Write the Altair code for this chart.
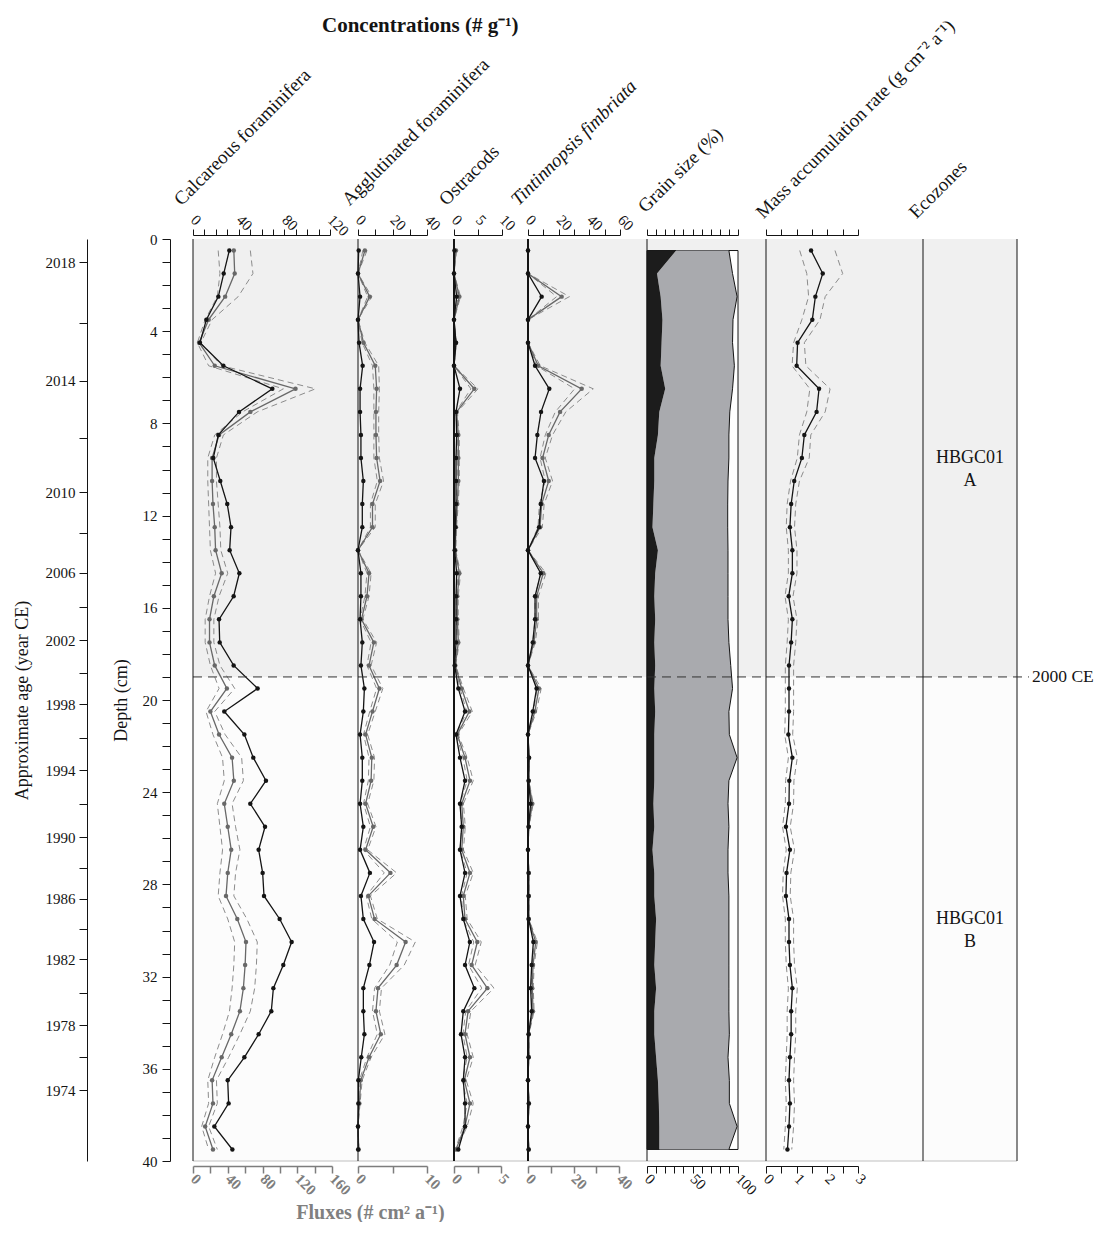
import altair as alt
import pandas as pd

# ---------------- data ----------------
depth = [0.5, 1.5, 2.5, 3.5, 4.5, 5.5, 6.5, 7.5, 8.5, 9.5,
         10.5, 11.5, 12.5, 13.5, 14.5, 15.5, 16.5, 17.5, 18.5, 19.5,
         20.5, 21.5, 22.5, 23.5, 24.5, 25.5, 26.5, 27.5, 28.5, 29.5,
         30.5, 31.5, 32.5, 33.5, 34.5, 35.5, 36.5, 37.5, 38.5, 39.5]

calc_conc = [31.8, 26.9, 22.2, 11.7, 6.1, 26.6, 69.5, 40.3, 22.2, 17.8,
             23.9, 30.0, 33.3, 32.1, 40.6, 35.6, 22.8, 23.4, 35.6, 56.6,
             27.4, 45.0, 52.8, 63.9, 50.2, 63.1, 57.5, 61.0, 62.2, 75.9,
             86.4, 79.1, 70.4, 68.6, 57.5, 45.0, 30.4, 31.2, 18.7, 34.5]
calc_flux = [47, 48, 37, 18, 7, 25, 118, 66, 30, 22,
             22, 23, 25, 26, 33, 24, 19, 19, 25, 39,
             20, 30, 45, 47, 36, 40, 44, 40, 38, 51,
             61, 60, 58, 54, 44, 33, 22, 23, 14, 23]
calc_lo = [29, 31, 28, 14, 5, 18, 104, 57, 25, 17,
           17, 18, 19, 20, 26, 19, 14, 14, 20, 30,
           15, 23, 34, 36, 28, 31, 34, 31, 29, 40,
           48, 47, 45, 42, 34, 25, 17, 18, 10, 18]
calc_hi = [66, 69, 52, 22, 9, 33, 141, 74, 35, 27,
           27, 29, 31, 32, 40, 30, 24, 24, 31, 48,
           25, 37, 56, 58, 45, 49, 54, 49, 47, 62,
           74, 73, 71, 66, 54, 41, 27, 28, 18, 28]

agg_conc = [0.4, 0, 1.2, 0, 0.6, 2.7, 1.2, 1.2, 1.7, 1.7,
            3.1, 2.5, 2.5, 0, 1.7, 1.7, 1.2, 2.5, 1.7, 3.7,
            3.1, 1.2, 2.5, 2.5, 1.2, 3.1, 1.2, 6.9, 1.7, 3.1,
            9.3, 6.6, 3.1, 3.1, 3.7, 1.9, 0.2, 0.2, 0, 0.1]
agg_flux = [1.0, 0, 1.7, 0, 0.8, 2.5, 2.7, 2.6, 2.6, 2.7,
            3.2, 2.1, 2.1, 0, 1.6, 1.3, 0.5, 2.3, 1.6, 3.1,
            2.1, 1.1, 2.0, 1.9, 1.1, 2.2, 1.1, 4.7, 1.5, 2.4,
            6.9, 5.6, 2.9, 2.6, 3.3, 1.6, 0.4, 0.2, 0, 0.1]
agg_lo = [0.7, 0, 1.4, 0, 0.6, 2.1, 2.3, 2.3, 2.3, 2.3,
          2.8, 1.8, 1.8, 0, 1.3, 1.0, 0.3, 1.9, 1.3, 2.7,
          1.7, 0.8, 1.6, 1.5, 0.8, 1.8, 0.8, 3.8, 1.2, 2.0,
          5.7, 4.6, 2.4, 2.1, 2.8, 1.3, 0.2, 0.1, 0, 0.05]
agg_hi = [1.3, 0, 2.0, 0, 1.0, 3.0, 3.1, 3.0, 3.0, 3.1,
          3.7, 2.5, 2.5, 0, 1.9, 1.6, 0.7, 2.7, 1.9, 3.6,
          2.5, 1.4, 2.4, 2.3, 1.4, 2.6, 1.4, 5.6, 1.8, 2.8,
          8.3, 6.7, 3.4, 3.1, 3.9, 1.9, 0.6, 0.3, 0, 0.15]

ost_conc = [0.1, 0, 0.56, 0, 0.42, 0, 1.25, 0.42, 0.56, 0.42,
            0.42, 0.42, 0.28, 0.14, 0.56, 0.42, 0.42, 0.42, 0.14, 0.9,
            2.3, 0.42, 1.25, 2.3, 1.25, 1.6, 1.25, 2.3, 1.25, 1.94,
            3.3, 2.3, 4.24, 1.94, 1.46, 2.3, 1.94, 2.3, 2.3, 0.9]
ost_flux = [0.21, 0, 0.57, 0, 0.21, 0, 2.16, 0.28, 0.46, 0.46,
            0.46, 0.35, 0.21, 0.14, 0.57, 0.35, 0.35, 0.46, 0.14, 0.82,
            1.63, 0.35, 1.17, 1.7, 0.82, 0.99, 0.82, 1.7, 0.99, 1.17,
            2.48, 1.88, 3.55, 1.5, 1.17, 1.7, 1.1, 1.7, 1.17, 0.21]
ost_lo = [0.15, 0, 0.45, 0, 0.15, 0, 1.8, 0.2, 0.35, 0.35,
          0.35, 0.25, 0.15, 0.1, 0.45, 0.25, 0.25, 0.35, 0.1, 0.65,
          1.35, 0.25, 0.95, 1.4, 0.65, 0.8, 0.65, 1.4, 0.8, 0.95,
          2.1, 1.55, 2.95, 1.25, 0.95, 1.4, 0.9, 1.4, 0.95, 0.15]
ost_hi = [0.27, 0, 0.7, 0, 0.27, 0, 2.55, 0.36, 0.57, 0.57,
          0.57, 0.45, 0.27, 0.18, 0.7, 0.45, 0.45, 0.57, 0.18, 1.0,
          1.95, 0.45, 1.4, 2.05, 1.0, 1.2, 1.0, 2.05, 1.2, 1.4,
          2.9, 2.25, 4.25, 1.8, 1.4, 2.05, 1.3, 2.05, 1.4, 0.27]

tin_conc = [0, 0, 8.9, 0, 0, 4.6, 13.9, 8.5, 6.1, 4.6,
            10.4, 8.3, 7.2, 0, 8.3, 4.6, 4.6, 3.1, 0, 5.6,
            3.1, 0, 0.7, 0.4, 1.7, 0.4, 0, 0.4, 0.4, 0.4,
            3.5, 2.4, 1.7, 2.4, 0.4, 0.4, 0, 0.5, 0, 0.4]
tin_flux = [0, 0, 14.8, 0, 0, 4.5, 23.6, 14.1, 9.1, 6.4,
            9.1, 6.0, 5.3, 0, 6.7, 3.8, 3.8, 2.6, 0, 4.8,
            3.0, 0, 0.4, 0.3, 1.9, 0.3, 0, 0.3, 0.3, 0.3,
            3.4, 2.2, 1.9, 2.2, 0.3, 0.3, 0, 0.4, 0, 0.3]
tin_lo = [0, 0, 12.6, 0, 0, 3.7, 20.5, 12.0, 7.6, 5.3,
          7.6, 5.0, 4.4, 0, 5.6, 3.1, 3.1, 2.1, 0, 4.0,
          2.4, 0, 0.3, 0.2, 1.5, 0.2, 0, 0.2, 0.2, 0.2,
          2.8, 1.8, 1.5, 1.8, 0.2, 0.2, 0, 0.3, 0, 0.2]
tin_hi = [0, 0, 18.2, 0, 0, 5.4, 28.7, 16.6, 10.8, 7.6,
          10.8, 7.1, 6.3, 0, 7.9, 4.6, 4.6, 3.2, 0, 5.8,
          3.7, 0, 0.5, 0.4, 2.3, 0.4, 0, 0.4, 0.4, 0.4,
          4.1, 2.7, 2.3, 2.7, 0.4, 0.4, 0, 0.5, 0, 0.4]

grain_clay = [32, 11, 15, 17, 16, 15, 20, 13.5, 12, 8,
              8, 7, 6, 12, 9, 8, 9, 8, 9, 8,
              9, 8, 8, 8, 7, 8, 6, 8, 8, 10,
              9, 8, 10, 8, 8, 10, 12, 13, 13.5, 13.5]
grain_silt = [58, 83, 84, 77.5, 78, 81, 74, 77.5, 78, 82,
              81, 81.7, 82.7, 77, 80, 81, 80, 82, 83, 86,
              81, 82.5, 91, 82, 82, 82, 83, 81, 82, 80,
              81, 82, 80, 82, 82.5, 79, 78.5, 77.5, 85.5, 76.5]

mar = [1.47, 1.85, 1.61, 1.51, 1.03, 1.0, 1.73, 1.65, 1.25, 1.17,
       0.92, 0.82, 0.78, 0.86, 0.86, 0.74, 0.86, 0.82, 0.75, 0.75,
       0.75, 0.73, 0.86, 0.76, 0.75, 0.65, 0.78, 0.67, 0.65, 0.75,
       0.75, 0.78, 0.86, 0.82, 0.82, 0.78, 0.75, 0.78, 0.75, 0.7]
mar_lo = [1.1, 1.33, 1.39, 1.17, 0.9, 0.85, 1.43, 1.33, 1.09, 1.02,
          0.8, 0.69, 0.66, 0.73, 0.73, 0.62, 0.73, 0.69, 0.63, 0.63,
          0.63, 0.61, 0.73, 0.64, 0.63, 0.54, 0.66, 0.56, 0.54, 0.63,
          0.63, 0.66, 0.73, 0.69, 0.69, 0.66, 0.63, 0.66, 0.63, 0.58]
mar_hi = [2.25, 2.5, 1.93, 1.76, 1.25, 1.3, 2.09, 1.93, 1.46, 1.41,
          1.09, 0.97, 0.93, 1.01, 1.01, 0.88, 1.01, 0.97, 0.9, 0.9,
          0.9, 0.87, 1.02, 0.91, 0.9, 0.79, 0.93, 0.81, 0.79, 0.9,
          0.9, 0.93, 1.02, 0.97, 0.97, 0.93, 0.9, 0.93, 0.9, 0.84]

# zones & age model
zone_top = [0, 19]
zone_bottom = [19, 40]
zone_names = ["HBGC01\nA", "HBGC01\nB"]
boundary_depth = [19]
boundary_label = ["2000 CE"]

age_years = [2018, 2016, 2014, 2012, 2010, 2008, 2006, 2004, 2002, 2000, 1998, 1996,
             1994, 1992, 1990, 1988, 1986, 1984, 1982, 1980, 1978, 1976, 1974]
age_depths = [1.01, 3.63, 6.15, 8.63, 10.98, 12.74, 14.48, 15.98, 17.4, 18.84, 20.19, 21.66,
              23.04, 24.51, 25.96, 27.3, 28.63, 29.95, 31.24, 32.7, 34.1, 35.5, 36.92]
age_labelled = [y for y in age_years if (2018 - y) % 4 == 0]

# axis tick values
depth_ticks = [0, 1, 2, 3, 4, 5, 6, 7, 8, 9, 10, 11, 12, 13, 14, 15, 16, 17, 18, 19, 20,
               21, 22, 23, 24, 25, 26, 27, 28, 29, 30, 31, 32, 33, 34, 35, 36, 37, 38, 39, 40]
calc_top_ticks = [0, 10, 20, 30, 40, 50, 60, 70, 80, 90, 100, 110, 120]
calc_bot_ticks = [0, 20, 40, 60, 80, 100, 120, 140, 160]
agg_top_ticks = [0, 10, 20, 30, 40]
agg_bot_ticks = [0, 5, 10]
ost_top_ticks = [0, 5, 10]
ost_bot_ticks = [0, 2.5, 5]
tin_top_ticks = [0, 10, 20, 30, 40, 50, 60]
tin_bot_ticks = [0, 10, 20, 30, 40]
grain_ticks = [0, 10, 20, 30, 40, 50, 60, 70, 80, 90, 100]
mar_ticks = [0, 0.5, 1, 1.5, 2, 2.5, 3]

# ---------------- style ----------------
FONT = "Liberation Serif"
BLACK = "#141414"
GREY = "#686868"
DASHC = "#8c8c8c"
AXGREY = "#7d7d7d"
H = 922
W_AGE, W_DEPTH = 83, 23
W_CALC, W_AGG, W_OST, W_TIN, W_GRAIN, W_MAR, W_ECO = 165, 96, 74, 119, 119, 157, 94

zone_df = pd.DataFrame({"ztop": zone_top, "zbot": zone_bottom,
                        "zfill": ["#f0f0f0", "#fcfcfc"]})
bnd_df = pd.DataFrame({"bdepth": boundary_depth, "blabel": boundary_label})
one_df = pd.DataFrame({"z": [0]})


def yscale():
    return alt.Scale(domain=[0, 40], reverse=True, nice=False, zero=False)


def xs(dom, rng):
    return alt.Scale(domain=dom, range=rng, nice=False, zero=False)


def top_axis(title, values, step=None, tx=-10, ty=-29, italic=False, labels=True):
    kw = dict(orient="top", offset=4, values=values, tickSize=6, tickColor=BLACK,
              domainColor=BLACK, labels=labels, labelColor=BLACK, labelFont=FONT,
              labelFontSize=15, labelAngle=45, labelAlign="left", labelBaseline="middle",
              labelPadding=12, labelOverlap=False, labelFlush=False, grid=False,
              title=title, titleFont=FONT, titleFontSize=19, titleFontWeight="normal",
              titleFontStyle="italic" if italic else "normal", titleColor=BLACK,
              titleAngle=315, titleAlign="left", titleBaseline="alphabetic",
              titleX=tx, titleY=ty)
    if labels and step is not None:
        kw["labelExpr"] = f"datum.value % {step} == 0 ? '' + datum.value : ''"
    return alt.Axis(**kw)


def bottom_axis(values, step, color=AXGREY, bold=True, **extra):
    kw = dict(orient="bottom", offset=5, values=values, tickSize=7, tickColor=color,
              domainColor=color, domainWidth=1.5 if color == AXGREY else 1,
              tickWidth=1.5 if color == AXGREY else 1,
              labelColor=color, labelFont=FONT, labelFontSize=15,
              labelFontWeight="bold" if bold else "normal",
              labelAngle=45, labelAlign="left", labelBaseline="middle", labelPadding=3,
              labelOverlap=False, labelFlush=False, grid=False,
              labelExpr=f"datum.value % {step} == 0 ? '' + datum.value : ''", title=None)
    kw.update(extra)
    return alt.Axis(**kw)


def frame_layers(width, frame_w=1.0, line_ext=0):
    bg = alt.Chart(zone_df).mark_rect().encode(
        y=alt.Y("ztop:Q", scale=yscale(), axis=None), y2="zbot:Q",
        x=alt.value(0), x2=alt.value(width),
        color=alt.Color("zfill:N", scale=None, legend=None))
    base_line = alt.Chart(one_df).mark_rule(color="#d4d4d4", strokeWidth=1.5).encode(
        y=alt.value(H), x=alt.value(0), x2=alt.value(width))
    line2000 = alt.Chart(bnd_df).mark_rule(color="#333333", strokeDash=[9, 6], strokeWidth=1).encode(
        y=alt.Y("bdepth:Q", scale=yscale(), axis=None),
        x=alt.value(0), x2=alt.value(width + line_ext))
    frame = alt.Chart(one_df).mark_rule(color=BLACK, strokeWidth=frame_w).encode(
        x=alt.value(0), y=alt.value(0), y2=alt.value(H))
    return [bg, base_line], [line2000, frame]


def series_layers(df, fields, scale, axis, color, dashed=False, points=False):
    out = []
    ys = alt.Y("depth:Q", scale=yscale(), axis=None)
    first = True
    for f in fields:
        if dashed:
            mk = alt.Chart(df).mark_line(color=DASHC, strokeDash=[6, 4], strokeWidth=1)
        else:
            mk = alt.Chart(df).mark_line(color=color, strokeWidth=1.3)
        out.append(mk.encode(x=alt.X(f + ":Q", scale=scale, axis=axis if first else None),
                             y=ys, order="depth:Q"))
        first = False
        if points:
            out.append(alt.Chart(df).mark_circle(color=color, size=20, opacity=1).encode(
                x=alt.X(f + ":Q", scale=scale, axis=None), y=ys))
    return out


def taxon_panel(width, conc, flux, lo, hi, top_dom, top_rng, top_ax,
                bot_dom, bot_rng, bot_ax, frame_w=1.0):
    df = pd.DataFrame({"depth": depth, "conc": conc, "flux": flux, "lo": lo, "hi": hi})
    tsc = xs(top_dom, top_rng)
    bsc = xs(bot_dom, bot_rng)
    data_layers = (series_layers(df, ["lo", "hi"], bsc, None, DASHC, dashed=True)
                   + series_layers(df, ["flux"], bsc, bot_ax, GREY, points=True)
                   + series_layers(df, ["conc"], tsc, top_ax, BLACK, points=True))
    under, over = frame_layers(width, frame_w)
    return alt.layer(*(under + data_layers + over)).properties(
        width=width, height=H).resolve_scale(x="independent")


# ---- age + depth axes (own narrow panels) ----
age_expr = " : ".join(
    f"datum.value == {d} ? '{y}'" for y, d in zip(age_years, age_depths) if y in age_labelled
) + " : ''"
age_axis = alt.Axis(orient="left", offset=0, values=age_depths, labelExpr=age_expr,
                    tickSize=8, tickColor=BLACK, domainColor=BLACK, labelPadding=4,
                    labelFont=FONT, labelFontSize=15, labelColor=BLACK,
                    labelOverlap=False, labelFlush=False, grid=False,
                    title="Approximate age (year CE)", titleFont=FONT, titleFontSize=18,
                    titleFontWeight="normal", titleColor=BLACK, titlePadding=14)
age_df = pd.DataFrame({"adepth": age_depths, "ayear": age_years})
age_panel = alt.Chart(age_df).mark_point(opacity=0).encode(
    y=alt.Y("adepth:Q", scale=yscale(), axis=age_axis)).properties(width=W_AGE, height=H)

depth_axis = alt.Axis(orient="left", offset=0, values=depth_ticks,
                      labelExpr="datum.value % 4 == 0 ? datum.label : ''",
                      tickSize=8, tickColor=BLACK, domainColor=BLACK, labelPadding=5,
                      labelFont=FONT, labelFontSize=15, labelColor=BLACK,
                      labelOverlap=False, labelFlush=False, grid=False,
                      title="Depth (cm)", titleFont=FONT, titleFontSize=18,
                      titleFontWeight="normal", titleColor=BLACK, titlePadding=12)
dtick_df = pd.DataFrame({"dt": depth_ticks})
depth_panel = alt.Chart(dtick_df).mark_point(opacity=0).encode(
    y=alt.Y("dt:Q", scale=yscale(), axis=depth_axis)).properties(width=W_DEPTH, height=H)

calc = taxon_panel(
    W_CALC, calc_conc, calc_flux, calc_lo, calc_hi,
    [0, 120], [0, 137], top_axis("Calcareous foraminifera", calc_top_ticks, 40, tx=-12),
    [0, 160], [0, 139],
    bottom_axis(calc_bot_ticks, 40, title="Fluxes (# cm² a⁻¹)", titleX=177, titleY=52,
                titleAngle=0, titleAlign="center", titleBaseline="alphabetic",
                titleFont=FONT, titleFontSize=20, titleFontWeight="bold", titleColor="#808080"))

agg = taxon_panel(
    W_AGG, agg_conc, agg_flux, agg_lo, agg_hi,
    [0, 40], [0, 69], top_axis("Agglutinated foraminifera", agg_top_ticks, 20, tx=-9),
    [0, 10], [0, 69], bottom_axis(agg_bot_ticks, 10))

ost = taxon_panel(
    W_OST, ost_conc, ost_flux, ost_lo, ost_hi,
    [0, 10], [0, 48], top_axis("Ostracods", ost_top_ticks, 5, tx=-8),
    [0, 5], [0, 47], bottom_axis(ost_bot_ticks, 5), frame_w=2)

tin = taxon_panel(
    W_TIN, tin_conc, tin_flux, tin_lo, tin_hi,
    [0, 60], [0, 92], top_axis("Tintinnopsis fimbriata", tin_top_ticks, 20, tx=-10, italic=True),
    [0, 40], [0, 91], bottom_axis(tin_bot_ticks, 20), frame_w=2)

# ---- grain size ----
gdf = pd.DataFrame({"depth": depth, "clay": grain_clay, "silt": grain_silt})
gdf["cum"] = gdf["clay"] + gdf["silt"]
gdf["base"] = 0
box_df = pd.DataFrame({"b0": [0], "b1": [100], "d0": [depth[0]], "d1": [depth[-1]]})
gys = alt.Y("depth:Q", scale=yscale(), axis=None)
g_top = top_axis("Grain size (%)", grain_ticks, labels=False, tx=-2, ty=-22)
g_bot = bottom_axis(grain_ticks, 50, color=BLACK, bold=False)
g_layers = [
    alt.Chart(box_df).mark_rect(fill="white", stroke=BLACK, strokeWidth=1).encode(
        x=alt.X("b0:Q", scale=xs([0, 100], [0, 91]), axis=g_top), x2="b1:Q",
        y=alt.Y("d0:Q", scale=yscale(), axis=None), y2="d1:Q"),
    alt.Chart(gdf).mark_area(orient="horizontal", color="#a9aaae").encode(
        x=alt.X("cum:Q", scale=xs([0, 100], [0, 91]), axis=g_bot), x2="clay:Q", y=gys),
    alt.Chart(gdf).mark_area(orient="horizontal", color="#1c1c1c").encode(
        x=alt.X("clay:Q", scale=xs([0, 100], [0, 91]), axis=None), x2="base:Q", y=gys),
    alt.Chart(gdf).mark_line(color=BLACK, strokeWidth=1).encode(
        x=alt.X("cum:Q", scale=xs([0, 100], [0, 91]), axis=None), y=gys, order="depth:Q"),
]
u, o = frame_layers(W_GRAIN)
grain = alt.layer(*(u + g_layers + o)).properties(
    width=W_GRAIN, height=H).resolve_scale(x="independent")

# ---- mass accumulation rate ----
mdf = pd.DataFrame({"depth": depth, "mar": mar, "lo": mar_lo, "hi": mar_hi})
m_bot = bottom_axis(mar_ticks, 1, color=BLACK, bold=False)
m_top = top_axis("Mass accumulation rate (g cm⁻² a⁻¹)", mar_ticks, labels=False, tx=-3, ty=-16)
m_layers = (series_layers(mdf, ["lo"], xs([0, 3], [0, 92]), m_top, DASHC, dashed=True)
            + series_layers(mdf, ["hi"], xs([0, 3], [0, 92]), None, DASHC, dashed=True)
            + series_layers(mdf, ["mar"], xs([0, 3], [0, 92]), m_bot, BLACK, points=True))
u, o = frame_layers(W_MAR)
mar_panel = alt.layer(*(u + m_layers + o)).properties(
    width=W_MAR, height=H).resolve_scale(x="independent")

# ---- ecozones ----
zl_df = pd.DataFrame({"ztop": zone_top, "zbot": zone_bottom, "zname": zone_names})
eco_text = alt.Chart(zl_df).transform_calculate(
    zmid="(datum.ztop + datum.zbot) / 2"
).mark_text(font=FONT, fontSize=18, lineBreak="\n", align="center",
            baseline="middle", color=BLACK, lineHeight=23).encode(
    y=alt.Y("zmid:Q", scale=yscale(), axis=None), x=alt.value(W_ECO / 2), text="zname:N")
eco_head = alt.Chart(one_df).mark_point(opacity=0).encode(
    x=alt.X("z:Q", scale=alt.Scale(domain=[0, 1], range=[0, W_ECO]),
            axis=alt.Axis(orient="top", offset=4, domain=False, ticks=False, labels=False,
                          grid=False, title="Ecozones", titleFont=FONT, titleFontSize=19,
                          titleFontWeight="normal", titleColor=BLACK, titleAngle=315,
                          titleAlign="left", titleBaseline="alphabetic", titleX=-7, titleY=-16)),
    y=alt.value(0))
label2000 = alt.Chart(bnd_df).mark_text(font=FONT, fontSize=17.5, align="left", baseline="middle",
                                        color=BLACK).encode(
    y=alt.Y("bdepth:Q", scale=yscale(), axis=None), x=alt.value(W_ECO + 15), text="blabel:N")
right_frame = alt.Chart(one_df).mark_rule(color=BLACK, strokeWidth=1).encode(
    x=alt.value(W_ECO), y=alt.value(0), y2=alt.value(H))
u, o = frame_layers(W_ECO, line_ext=12)
eco = alt.layer(*(u + [eco_text, eco_head, label2000, right_frame] + o)).properties(
    width=W_ECO, height=H)

chart = alt.hconcat(age_panel, depth_panel, calc, agg, ost, tin, grain, mar_panel, eco,
                    spacing=0, bounds="flush").properties(
    title=alt.TitleParams("Concentrations (# g⁻¹)", font=FONT, fontSize=21, fontWeight="bold",
                          color=BLACK, anchor="start", frame="group", dx=235, offset=-20),
    padding={"left": 5, "top": 7, "right": 0, "bottom": 0}
).configure_view(stroke=None).configure_axis(grid=False)

chart.save("out.html", embed_options={"renderer": "svg", "actions": False})
